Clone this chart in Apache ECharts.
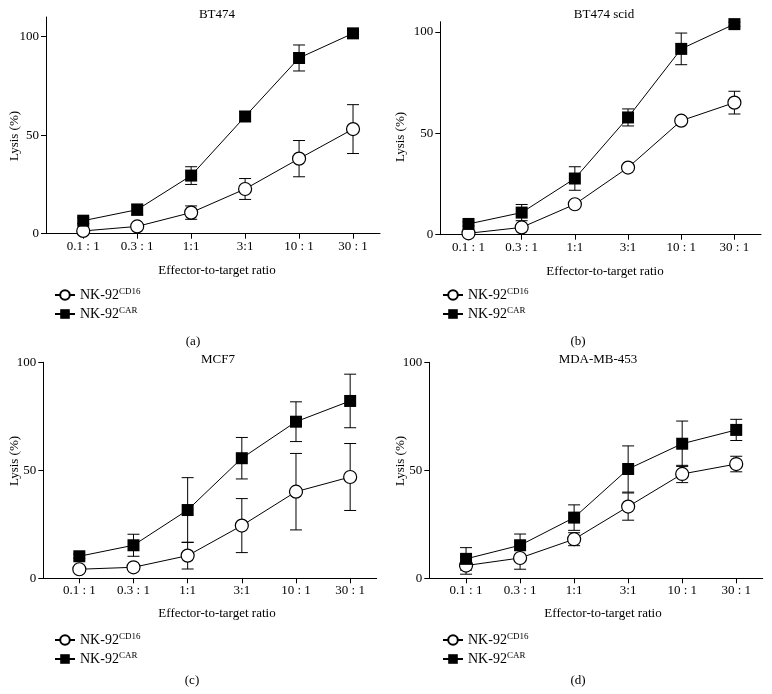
<!DOCTYPE html>
<html><head><meta charset="utf-8">
<script src="https://cdn.jsdelivr.net/npm/echarts@6/dist/echarts.min.js"></script>
<style>html,body{margin:0;padding:0;background:#fff}#c{width:772px;height:694px}</style>
</head><body><div id="c"></div>
<script>
// ---- data ----
const categories = ['0.1 : 1', '0.3 : 1', '1:1', '3:1', '10 : 1', '30 : 1'];
const panelTitles = ['BT474', 'BT474 scid', 'MCF7', 'MDA-MB-453'];
const panelLetters = ['(a)', '(b)', '(c)', '(d)'];
const yTicks = [0, 50, 100];
const seriesNames = ['NK-92CD16', 'NK-92CAR'];

const cd16A = [1.4, 3.7, 10.7, 22.7, 38.1, 53.1];
const cd16ErrA = [0.5, 0.8, 3.4, 5.3, 9.2, 12.4];
const carA = [6.6, 12.2, 29.5, 59.5, 89.2, 101.7];
const carErrA = [1.5, 2.8, 4.5, 2.5, 6.6, 1.0];

const cd16B = [0.7, 3.6, 15.0, 33.1, 56.2, 65.1];
const cd16ErrB = [0.5, 0.8, 1.0, 1.2, 1.5, 5.6];
const carB = [5.3, 10.9, 27.7, 57.8, 91.6, 103.8];
const carErrB = [1.0, 4.0, 5.8, 4.2, 7.8, 1.0];

const cd16C = [4.2, 5.1, 10.5, 24.4, 40.1, 46.9];
const cd16ErrC = [0.5, 0.8, 6.2, 12.5, 17.7, 15.5];
const carC = [10.2, 15.3, 31.6, 55.6, 72.5, 82.1];
const carErrC = [1.0, 5.1, 15.0, 9.6, 9.2, 12.4];

const cd16D = [5.9, 9.4, 18.1, 33.2, 48.3, 52.9];
const cd16ErrD = [4.0, 5.2, 3.0, 6.3, 4.0, 3.6];
const carD = [9.0, 15.3, 28.1, 50.6, 62.3, 68.7];
const carErrD = [5.2, 5.2, 5.9, 10.7, 10.5, 4.9];

const cd16All = [cd16A, cd16B, cd16C, cd16D];
const cd16ErrAll = [cd16ErrA, cd16ErrB, cd16ErrC, cd16ErrD];
const carAll = [carA, carB, carC, carD];
const carErrAll = [carErrA, carErrB, carErrC, carErrD];

// ---- layout ----
const FONT = '"Liberation Serif", "DejaVu Serif", serif';
const layout = [
  {left: 46, top: 17, width: 334, height: 216.7, xmin: -0.69, xmax: 5.5, ymax: 110, yn: [15, 136],
   tx: 217, ty: 15, lx: 217, ly: 271, leg: [54, 287], let: [193, 342]},
  {left: 440.3, top: 21.7, width: 320.7, height: 213, xmin: -0.53, xmax: 5.5, ymax: 105, yn: [401, 137],
   tx: 604, ty: 15, lx: 605, ly: 272, leg: [442, 287], let: [578, 342]},
  {left: 43.3, top: 362.3, width: 333.4, height: 216, xmin: -0.665, xmax: 5.49, ymax: 100, yn: [15, 461],
   tx: 218, ty: 360, lx: 217, ly: 614, leg: [54, 632], let: [192, 681]},
  {left: 429.3, top: 362.3, width: 333.4, height: 216, xmin: -0.68, xmax: 5.49, ymax: 100, yn: [401, 461],
   tx: 598, ty: 360, lx: 603, ly: 614, leg: [442, 632], let: [578, 681]}
];

function errRender(params, api) {
  const x = api.value(0), lo = api.value(1), hi = api.value(2);
  const p1 = api.coord([x, hi]);
  const p2 = api.coord([x, lo]);
  const w = 6;
  const st = {stroke: '#000', lineWidth: 1};
  return {type: 'group', children: [
    {type: 'line', shape: {x1: p1[0], y1: p1[1], x2: p2[0], y2: p2[1]}, style: st},
    {type: 'line', shape: {x1: p1[0] - w, y1: p1[1], x2: p1[0] + w, y2: p1[1]}, style: st},
    {type: 'line', shape: {x1: p2[0] - w, y1: p2[1], x2: p2[0] + w, y2: p2[1]}, style: st}
  ]};
}

const grids = [], xAxes = [], yAxes = [], series = [], legends = [], graphics = [];
layout.forEach((L, i) => {
  grids.push({left: L.left, top: L.top, width: L.width, height: L.height});
  xAxes.push({
    type: 'value', gridIndex: i, min: L.xmin, max: L.xmax,
    axisLine: {onZero: false, lineStyle: {color: '#000', width: 1}},
    axisTick: {show: true, length: 5, customValues: categories.map((c, k) => k), lineStyle: {color: '#000'}},
    axisLabel: {customValues: categories.map((c, k) => k), formatter: v => categories[Math.round(v)],
      color: '#000', fontFamily: FONT, fontSize: 13, margin: 6},
    splitLine: {show: false}
  });
  yAxes.push({
    type: 'value', gridIndex: i, min: 0, max: L.ymax,
    axisLine: {show: true, onZero: false, lineStyle: {color: '#000', width: 1}},
    axisTick: {show: true, length: 5, customValues: yTicks, lineStyle: {color: '#000'}},
    axisLabel: {customValues: yTicks, color: '#000', fontFamily: FONT, fontSize: 13, margin: 7},
    splitLine: {show: false}
  });
  series.push({
    type: 'custom', xAxisIndex: i, yAxisIndex: i, z: 1, silent: true,
    renderItem: errRender, encode: {x: 0, y: [1, 2]},
    data: cd16All[i].map((v, k) => [k, v - cd16ErrAll[i][k], v + cd16ErrAll[i][k]])
  });
  series.push({
    type: 'custom', xAxisIndex: i, yAxisIndex: i, z: 1, silent: true,
    renderItem: errRender, encode: {x: 0, y: [1, 2]},
    data: carAll[i].map((v, k) => [k, v - carErrAll[i][k], v + carErrAll[i][k]])
  });
  series.push({
    name: seriesNames[0], type: 'line', xAxisIndex: i, yAxisIndex: i, z: 3,
    data: cd16All[i].map((v, k) => [k, v]),
    symbol: 'circle', symbolSize: 13,
    lineStyle: {color: '#000', width: 1},
    itemStyle: {color: '#fff', borderColor: '#000', borderWidth: 1.2},
    emphasis: {disabled: true}
  });
  series.push({
    name: seriesNames[1], type: 'line', xAxisIndex: i, yAxisIndex: i, z: 4,
    data: carAll[i].map((v, k) => [k, v]),
    symbol: 'rect', symbolSize: 12,
    lineStyle: {color: '#000', width: 1},
    itemStyle: {color: '#000', borderColor: '#000', borderWidth: 0},
    emphasis: {disabled: true}
  });
  legends.push({
    data: seriesNames, orient: 'vertical', left: L.leg[0], top: L.leg[1],
    itemWidth: 20, itemHeight: 12, itemGap: 4, selectedMode: false, padding: 0,
    formatter: n => n === seriesNames[0] ? '{b|NK-92}{s|CD16}' : '{b|NK-92}{s|CAR}',
    textStyle: {color: '#000', fontFamily: FONT, fontSize: 13,
      rich: {
        b: {fontFamily: FONT, fontSize: 14, color: '#000', lineHeight: 16},
        s: {fontFamily: FONT, fontSize: 9, color: '#000', verticalAlign: 'top', lineHeight: 9}
      }}
  });
  const t = (txt, x, y, size, rot) => graphics.push({type: 'text', x: x, y: y, rotation: rot || 0,
    style: {text: txt, font: size + 'px ' + FONT, fill: '#000', align: 'center', verticalAlign: 'middle'}});
  t(panelTitles[i], L.tx, L.ty, 13);
  t('Effector-to-target ratio', L.lx, L.ly, 13);
  t(panelLetters[i], L.let[0], L.let[1], 13);
  t('Lysis (%)', L.yn[0], L.yn[1], 13, Math.PI / 2);
});

const chart = echarts.init(document.getElementById('c'), null, {renderer: 'canvas'});
chart.setOption({
  animation: false,
  backgroundColor: '#fff',
  grid: grids, xAxis: xAxes, yAxis: yAxes, series: series, legend: legends, graphic: graphics
});
</script></body></html>
